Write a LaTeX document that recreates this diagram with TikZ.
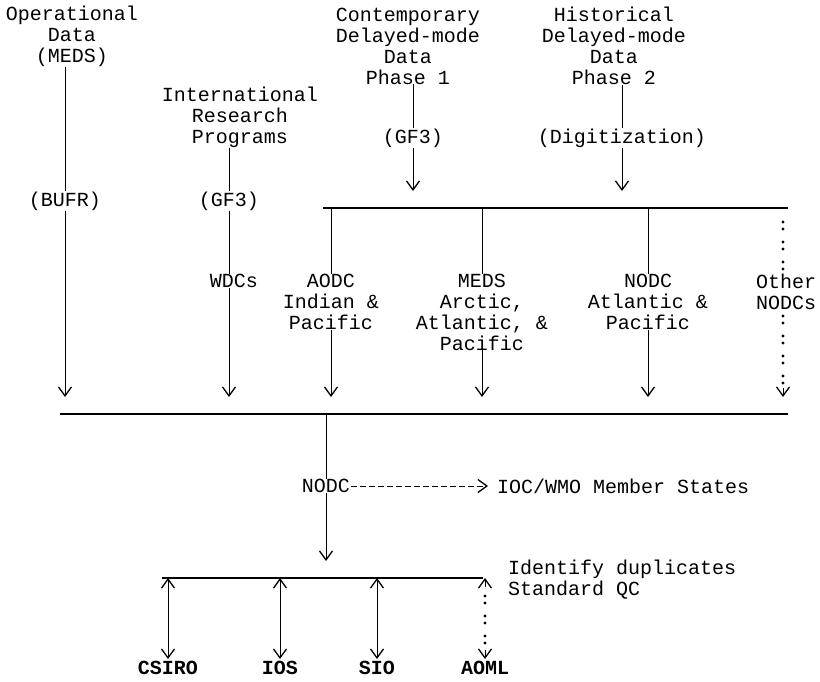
\documentclass[tikz,border=0pt]{standalone}
\usepackage{fontspec}
\setmainfont{Liberation Mono}
\usetikzlibrary{arrows.meta}

\begin{document}
\begin{tikzpicture}[
		x=1pt, y=-1pt,
		every node/.style={inner sep=0pt, align=center, font=\fontsize{20}{21}\selectfont},
		flow/.style={line width=0.8pt},
		tip/.style={arrows={-Straight Barb[length=9pt,width=13pt,line width=1.3pt]}},
		twotip/.style={arrows={Straight Barb[length=9pt,width=13pt,line width=1.3pt]-Straight Barb[length=9pt,width=13pt,line width=1.3pt]}},
		feed/.style={flow, tip, shorten >=17pt},
		bus/.style={line width=1.4pt},
		colons/.style={line width=3.2pt, line cap=round, dash pattern=on 0pt off 7pt on 0pt off 13pt},
		lab/.style={font=\fontsize{20}{21}\selectfont\bfseries}
	]
	\useasboundingbox (0,0) rectangle (820,681);

	% sources
	\node (op) at (72,36) {Operational\\Data\\(MEDS)};
	\node (bufr) at (65,201) {(BUFR)};
	\node (irp) at (240,117) {International\\Research\\Programs};
	\node (gfa) at (229,201) {(GF3)};
	\node (wdc) at (234,281) {WDCs};
	\node (cdm) at (408,46) {Contemporary\\Delayed-mode\\Data\\Phase 1};
	\node (gfb) at (413,138) {(GF3)};
	\node (hdm) at (614,46) {Historical\\Delayed-mode\\Data\\Phase 2};
	\node (dig) at (622,138) {(Digitization)};

	% data centres
	\node (aodc) at (331,302) {AODC\\Indian \&\\Pacific};
	\node (meds) at (482,312) {MEDS\\Arctic,\\Atlantic, \&\\Pacific};
	\node (nodc) at (648,302) {NODC\\Atlantic \&\\Pacific};
	\node (other) at (786,292) {Other\\NODCs};

	\node (nodcc) at (326,486) {NODC};
	\node[anchor=west] (ioc) at (497,486) {IOC/WMO Member States};
	\node[anchor=west, align=left] (idq) at (508,580) {Identify duplicates\\Standard QC};

	\node[lab] (csiro) at (168,668) {CSIRO};
	\node[lab] (ios) at (280,668) {IOS};
	\node[lab] (sio) at (377,668) {SIO};
	\node[lab] (aoml) at (485,668) {AOML};

	% buses
	\coordinate (ub1) at (323,208);
	\coordinate (ub2) at (788,208);
	\coordinate (lb1) at (60,414);
	\coordinate (lb2) at (788,414);
	\coordinate (bb1) at (162,578);
	\coordinate (bb2) at (483,578);
	\draw[bus] (ub1) -- (ub2);
	\draw[bus] (lb1) -- (lb2);
	\draw[bus] (bb1) -- (bb2);

	% into the lower bus
	\draw[flow] (bufr.north |- op.south) -- (bufr.north);
	\draw[feed] (bufr.south) -- (bufr.south |- lb1);
	\draw[flow] (gfa.north |- irp.south) -- (gfa.north);
	\draw[flow] (gfa.south) -- (gfa.south |- wdc.north);
	\draw[feed] (gfa |- wdc.south) -- (gfa |- lb1);

	% into the upper bus
	\draw[flow] (gfb.north |- cdm.south) -- (gfb.north);
	\draw[feed] (gfb.south) -- (gfb.south |- ub1);
	\draw[flow] (dig.north |- hdm.south) -- (dig.north);
	\draw[feed] (dig.south) -- (dig.south |- ub1);

	% upper bus to the centres
	\foreach \c in {aodc,meds,nodc} {
		\draw[flow] (\c.north |- ub1) -- (\c.north);
		\draw[feed] (\c.south) -- (\c.south |- lb1);
	}
	\coordinate (ou) at ([xshift=-3pt]other.north |- ub1);
	\coordinate (od) at ([xshift=-3pt]other.south |- lb1);
	\draw[colons] ([yshift=-14pt]ou) -- ([xshift=-3pt]other.north);
	\draw[colons] ([xshift=-3pt,yshift=-6pt]other.south) -- ([yshift=28pt]od);
	\draw[flow, tip] ([yshift=26pt]od) -- ([yshift=17pt]od);

	% NODC
	\draw[flow] (nodcc.north |- lb1) -- (nodcc.north);
	\draw[flow, tip, dash pattern=on 6pt off 3pt] ([xshift=1pt]nodcc.east) -- ([xshift=-9pt]ioc.west);
	\draw[feed] (nodcc.south) -- (nodcc.south |- bb1);

	% bottom bus
	\foreach \c in {csiro,ios,sio} {
		\draw[flow, twotip] (\c.north |- bb1) -- ([yshift=2pt]\c.north);
	}
	\draw[flow, tip] ([yshift=-9pt]aoml.north |- bb1) -- (aoml.north |- bb1);
	\draw[colons] ([yshift=-18pt]aoml.north |- bb1) -- ([yshift=16pt]aoml.north);
	\draw[flow, tip] ([yshift=11pt]aoml.north) -- ([yshift=2pt]aoml.north);
\end{tikzpicture}
\end{document}
